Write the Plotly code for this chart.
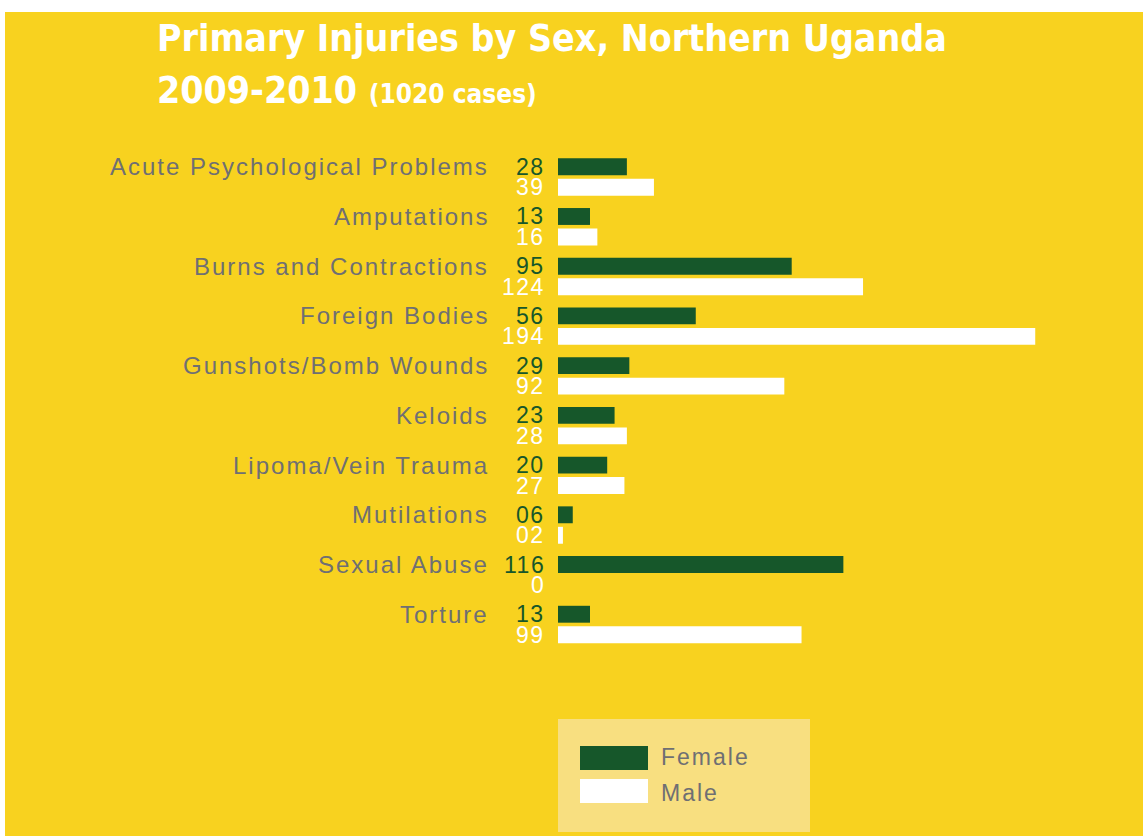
import plotly.graph_objects as go

categories = ["Acute Psychological Problems", "Amputations", "Burns and Contractions",
              "Foreign Bodies", "Gunshots/Bomb Wounds", "Keloids", "Lipoma/Vein Trauma",
              "Mutilations", "Sexual Abuse", "Torture"]
female = [28, 13, 95, 56, 29, 23, 20, 6, 116, 13]
male = [39, 16, 124, 194, 92, 28, 27, 2, 0, 99]
female_labels = ["28", "13", "95", "56", "29", "23", "20", "06", "116", "13"]
male_labels = ["39", "16", "124", "194", "92", "28", "27", "02", "0", "99"]

YELLOW = "#F8D21F"
GREEN = "#16572A"
GRAY = "#6F6F73"
LEGEND_BG = "#F8DF80"

W, H = 1143, 836
L, R, T, B = 558, 43, 140, 166
PW, PH = W - L - R, H - T - B


def px_x(px):
    return (px - L) / PW


def px_y(py):
    return (H - B - py) / PH


def spaced(text, ls):
    return f"<span style='letter-spacing:{ls}px'>{text}</span>"


off = 0.206
idx = list(range(len(categories)))
yf = [i - off for i in idx]
ym = [i + off for i in idx]

fig = go.Figure()
fig.add_trace(go.Bar(x=female, y=yf, orientation="h", width=0.34,
                     marker=dict(color=GREEN, line=dict(width=0)), name="Female",
                     hoverinfo="x"))
fig.add_trace(go.Bar(x=male, y=ym, orientation="h", width=0.34,
                     marker=dict(color="white", line=dict(width=0)), name="Male",
                     hoverinfo="x"))

label_font = "Liberation Sans, Arial, sans-serif"
annotations = []
for i, c in enumerate(categories):
    annotations.append(dict(x=px_x(491), xref="paper", y=yf[i], yref="y", text=spaced(c, 2),
                            xanchor="right", yanchor="middle", showarrow=False,
                            font=dict(family=label_font, size=24, color=GRAY)))
    annotations.append(dict(x=px_x(547), xref="paper", y=yf[i], yref="y",
                            text=spaced(female_labels[i], 1.5),
                            xanchor="right", yanchor="middle", showarrow=False,
                            font=dict(family=label_font, size=23, color=GREEN)))
    annotations.append(dict(x=px_x(547), xref="paper", y=ym[i], yref="y",
                            text=spaced(male_labels[i], 1.5),
                            xanchor="right", yanchor="middle", showarrow=False,
                            font=dict(family=label_font, size=23, color="white")))

# title
title_font = "DejaVu Sans Condensed, DejaVu Sans, sans-serif"
annotations.append(dict(x=px_x(155), xref="paper", y=px_y(38), yref="paper",
                        text="<b>Primary Injuries by Sex, Northern Uganda</b>",
                        xanchor="left", yanchor="middle", showarrow=False,
                        font=dict(family=title_font, size=37.2, color="white")))
annotations.append(dict(x=px_x(155), xref="paper", y=px_y(90), yref="paper",
                        text="<b>2009-2010 <span style='font-size:26px'>(1020 cases)</span></b>",
                        xanchor="left", yanchor="middle", showarrow=False,
                        font=dict(family=title_font, size=37.2, color="white")))

# legend
annotations.append(dict(x=px_x(659), xref="paper", y=px_y(757), yref="paper",
                        text=spaced("Female", 2),
                        xanchor="left", yanchor="middle", showarrow=False,
                        font=dict(family=label_font, size=23, color=GRAY)))
annotations.append(dict(x=px_x(659), xref="paper", y=px_y(793), yref="paper",
                        text=spaced("Male", 2),
                        xanchor="left", yanchor="middle", showarrow=False,
                        font=dict(family=label_font, size=23, color=GRAY)))

shapes = [
    dict(type="rect", xref="paper", yref="paper", x0=px_x(5), x1=px_x(W + 5),
         y0=px_y(12), y1=px_y(H + 5), fillcolor=YELLOW, line=dict(width=0), layer="below"),
    dict(type="rect", xref="paper", yref="paper", x0=px_x(558), x1=px_x(810),
         y0=px_y(719), y1=px_y(832), fillcolor=LEGEND_BG, line=dict(width=0), layer="below"),
    dict(type="rect", xref="paper", yref="paper", x0=px_x(580), x1=px_x(648),
         y0=px_y(746), y1=px_y(770), fillcolor=GREEN, line=dict(width=0)),
    dict(type="rect", xref="paper", yref="paper", x0=px_x(580), x1=px_x(648),
         y0=px_y(779), y1=px_y(803), fillcolor="white", line=dict(width=0)),
]

top_idx = (T - 177) / 49.72
bot_idx = (H - B - 177) / 49.72

fig.update_layout(
    width=W, height=H,
    margin=dict(l=L, r=R, t=T, b=B, pad=0),
    paper_bgcolor="white",
    plot_bgcolor="rgba(0,0,0,0)",
    showlegend=False,
    barmode="overlay",
    xaxis=dict(range=[0, PW / 2.46], visible=False, fixedrange=True),
    yaxis=dict(range=[bot_idx, top_idx], visible=False, fixedrange=True),
    annotations=annotations,
    shapes=shapes,
)

fig.write_html("out.html", config={"displayModeBar": False},
               post_script="document.body.style.margin='0';")
